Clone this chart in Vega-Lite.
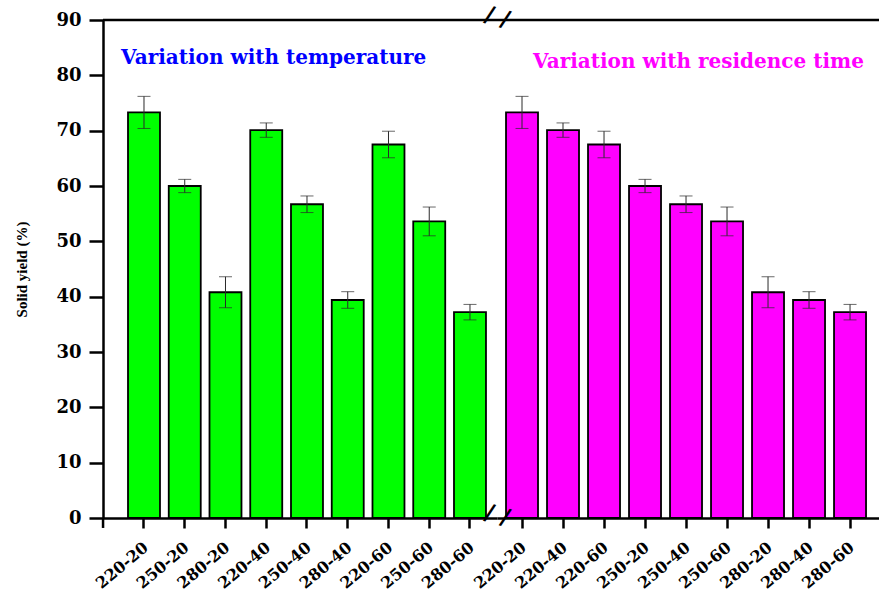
{
  "$schema": "https://vega.github.io/schema/vega-lite/v6.json",
  "autosize": "pad",
  "padding": {"left": 14, "top": 3, "right": 0, "bottom": 0},
  "background": "white",
  "datasets": {
    "temperature": [
      {"cond": "220-20", "yield": 73.3, "err": 2.9},
      {"cond": "250-20", "yield": 60.0, "err": 1.2},
      {"cond": "280-20", "yield": 40.8, "err": 2.8},
      {"cond": "220-40", "yield": 70.1, "err": 1.3},
      {"cond": "250-40", "yield": 56.7, "err": 1.5},
      {"cond": "280-40", "yield": 39.4, "err": 1.5},
      {"cond": "220-60", "yield": 67.5, "err": 2.4},
      {"cond": "250-60", "yield": 53.6, "err": 2.6},
      {"cond": "280-60", "yield": 37.2, "err": 1.4}
    ],
    "time": [
      {"cond": "220-20", "yield": 73.3, "err": 2.9},
      {"cond": "220-40", "yield": 70.1, "err": 1.3},
      {"cond": "220-60", "yield": 67.5, "err": 2.4},
      {"cond": "250-20", "yield": 60.0, "err": 1.2},
      {"cond": "250-40", "yield": 56.7, "err": 1.5},
      {"cond": "250-60", "yield": 53.6, "err": 2.6},
      {"cond": "280-20", "yield": 40.8, "err": 2.8},
      {"cond": "280-40", "yield": 39.4, "err": 1.5},
      {"cond": "280-60", "yield": 37.2, "err": 1.4}
    ]
  },
  "spacing": 0,
  "bounds": "flush",
  "hconcat": [
    {
      "width": 394,
      "height": 498,
      "layer": [
        {
          "data": {"name": "temperature"},
          "mark": {"type": "bar", "fill": "#00FF00", "stroke": "#000000", "strokeWidth": 1.8},
          "encoding": {
            "x": {
              "field": "cond", "type": "nominal",
              "scale": {
                "domain": ["220-20", "250-20", "280-20", "220-40", "250-40", "280-40", "220-60", "250-60", "280-60"],
                "paddingInner": 0.215, "paddingOuter": 0.442, "align": 0.694
              },
              "axis": {"title": null, "labelAngle": -40, "labelAlign": "right", "labelBaseline": "top", "labelPadding": 11, "labelOffset": -3, "labelFontSize": 16, "tickSize": 10}
            },
            "y": {
              "field": "yield", "type": "quantitative",
              "scale": {"domain": [0, 90], "nice": false},
              "axis": {"title": "Solid yield (%)", "values": [0, 10, 20, 30, 40, 50, 60, 70, 80, 90], "tickSize": 14, "labelPadding": 8, "titlePadding": 26}
            }
          }
        },
        {
          "data": {"name": "temperature"},
          "mark": {"type": "errorbar", "ticks": {"size": 13, "color": "#2a2a2a"}, "rule": {"color": "#2a2a2a"}, "thickness": 1},
          "encoding": {
            "x": {"field": "cond", "type": "nominal"},
            "y": {"field": "yield", "type": "quantitative", "title": "Solid yield (%)"},
            "yError": {"field": "err"}
          }
        },
        {
          "data": {"values": [{}]},
          "mark": {"type": "rule", "color": "#000000", "strokeWidth": 2.5},
          "encoding": {"y": {"datum": 90, "type": "quantitative"}}
        },
        {
          "data": {"values": [{}]},
          "mark": {"type": "rule", "color": "#000000", "strokeWidth": 2.5},
          "encoding": {
            "x": {"datum": "220-20", "type": "nominal", "bandPosition": -0.78},
            "y": {"datum": 0, "type": "quantitative"},
            "y2": {"datum": -1.8}
          }
        },
        {
          "data": {"values": [{}]},
          "mark": {"type": "text", "text": "Variation with temperature", "align": "left", "baseline": "alphabetic", "dx": -7, "font": "DejaVu Serif", "fontWeight": "bold", "fontSize": 20, "color": "#0000FF"},
          "encoding": {
            "x": {"datum": "220-20", "type": "nominal", "bandPosition": 0},
            "y": {"datum": 82.05, "type": "quantitative"}
          }
        }
      ]
    },
    {
      "width": 382,
      "height": 498,
      "layer": [
        {
          "data": {"name": "time"},
          "mark": {"type": "bar", "fill": "#FF00FF", "stroke": "#000000", "strokeWidth": 1.8},
          "encoding": {
            "x": {
              "field": "cond", "type": "nominal",
              "scale": {
                "domain": ["220-20", "220-40", "220-60", "250-20", "250-40", "250-60", "280-20", "280-40", "280-60"],
                "paddingInner": 0.2195, "paddingOuter": 0.268, "align": 0.41
              },
              "axis": {"title": null, "labelAngle": -40, "labelAlign": "right", "labelBaseline": "top", "labelPadding": 11, "labelOffset": -3, "labelFontSize": 16, "tickSize": 10}
            },
            "y": {
              "field": "yield", "type": "quantitative",
              "scale": {"domain": [0, 90], "nice": false},
              "axis": null
            }
          }
        },
        {
          "data": {"name": "time"},
          "mark": {"type": "errorbar", "ticks": {"size": 13, "color": "#2a2a2a"}, "rule": {"color": "#2a2a2a"}, "thickness": 1},
          "encoding": {
            "x": {"field": "cond", "type": "nominal"},
            "y": {"field": "yield", "type": "quantitative"},
            "yError": {"field": "err"}
          }
        },
        {
          "data": {"values": [{}]},
          "mark": {"type": "rule", "color": "#000000", "strokeWidth": 2.5},
          "encoding": {"y": {"datum": 90, "type": "quantitative"}}
        },
        {
          "data": {"values": [{}]},
          "mark": {"type": "text", "text": "Variation with residence time", "align": "left", "baseline": "alphabetic", "dx": 27, "font": "DejaVu Serif", "fontWeight": "bold", "fontSize": 20, "color": "#FF00FF"},
          "encoding": {
            "x": {"datum": "220-20", "type": "nominal", "bandPosition": 0},
            "y": {"datum": 81.33, "type": "quantitative"}
          }
        },
        {
          "data": {"values": [{}]},
          "mark": {"type": "text", "text": "/ /", "align": "center", "baseline": "middle", "dx": -9, "angle": 16, "font": "DejaVu Sans", "fontWeight": "bold", "fontSize": 23, "color": "#000000"},
          "encoding": {
            "x": {"datum": "220-20", "type": "nominal", "bandPosition": 0},
            "y": {"datum": 90, "type": "quantitative"}
          }
        },
        {
          "data": {"values": [{}]},
          "mark": {"type": "text", "text": "/ /", "align": "center", "baseline": "middle", "dx": -9, "angle": 16, "font": "DejaVu Sans", "fontWeight": "bold", "fontSize": 23, "color": "#000000"},
          "encoding": {
            "x": {"datum": "220-20", "type": "nominal", "bandPosition": 0},
            "y": {"datum": 0, "type": "quantitative"}
          }
        }
      ]
    }
  ],
  "config": {
    "view": {"stroke": null},
    "axis": {
      "grid": false,
      "domainColor": "#000000",
      "domainWidth": 2.5,
      "tickColor": "#000000",
      "tickWidth": 2.5,
      "labelFont": "DejaVu Serif",
      "labelFontWeight": "bold",
      "labelFontSize": 18,
      "labelColor": "#000000",
      "titleFont": "Liberation Serif",
      "titleFontWeight": "bold",
      "titleFontSize": 15,
      "titleColor": "#000000"
    }
  }
}
